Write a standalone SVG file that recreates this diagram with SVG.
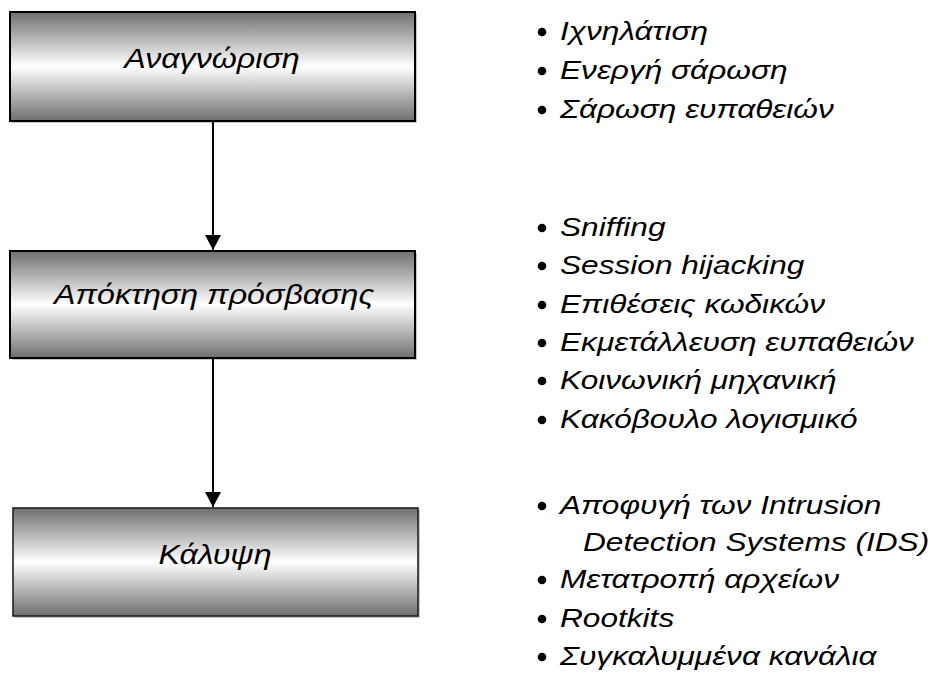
<svg xmlns="http://www.w3.org/2000/svg" width="944" height="673" viewBox="0 0 944 673">
  <style>
    .box { stroke: #000; stroke-width: 2; }
    .shadow { fill: #c8c8c8; }
    .label { font-family: "Liberation Sans", Arial, sans-serif; font-style: italic; font-size: 28px; fill: #000; text-anchor: middle; }
    .item { font-family: "Liberation Sans", Arial, sans-serif; font-style: italic; font-size: 25px; fill: #000; }
    .edge { stroke: #000; stroke-width: 2; fill: none; }
  </style>
  <defs>
    <linearGradient id="metal" x1="0" y1="0" x2="0" y2="1">
      <stop offset="0" stop-color="#6f6f6f"/>
      <stop offset="0.5" stop-color="#ffffff"/>
      <stop offset="1" stop-color="#6f6f6f"/>
    </linearGradient>
    <marker id="arrow" markerWidth="16" markerHeight="16" refX="15" refY="8" orient="auto" markerUnits="userSpaceOnUse">
      <path d="M0,0 L15,8 L0,16 Z" fill="#000"/>
    </marker>
  </defs>
  <rect width="944" height="673" fill="#fff"/>

  <!-- process stages -->
  <g id="stage-recon">
    <rect class="shadow" x="12" y="14" width="405" height="109"/>
    <rect class="box" x="10" y="12" width="405" height="109" fill="url(#metal)"/>
    <text class="label" transform="translate(212 68) scale(1.15 1)">Αναγνώριση</text>
  </g>
  <g id="stage-access">
    <rect class="shadow" x="12" y="253" width="405" height="107"/>
    <rect class="box" x="10" y="251" width="405" height="107" fill="url(#metal)"/>
    <text class="label" transform="translate(214 304) scale(1.15 1)">Απόκτηση πρόσβασης</text>
  </g>
  <g id="stage-cover">
    <rect class="shadow" x="15" y="510" width="405" height="108"/>
    <rect class="box" x="13" y="508" width="405" height="108" fill="url(#metal)" style="stroke:#222;stroke-width:1.6"/>
    <text class="label" transform="translate(215 564) scale(1.15 1)">Κάλυψη</text>
  </g>

  <!-- flow between stages -->
  <g id="connectors">
    <line class="edge" x1="213" y1="121" x2="213" y2="250" marker-end="url(#arrow)"/>
    <line class="edge" x1="213" y1="358" x2="213" y2="507" marker-end="url(#arrow)"/>
  </g>

  <!-- techniques per stage -->
  <g id="list-recon">
    <circle cx="542" cy="32" r="4.3"/>
    <circle cx="542" cy="71" r="4.3"/>
    <circle cx="542" cy="110" r="4.3"/>
    <g transform="translate(560 0) scale(1.265 1)">
      <text class="item" x="0" y="40">Ιχνηλάτιση</text>
      <text class="item" x="0" y="79">Ενεργή σάρωση</text>
      <text class="item" x="0" y="118">Σάρωση ευπαθειών</text>
    </g>
  </g>
  <g id="list-access">
    <circle cx="542" cy="228" r="4.3"/>
    <circle cx="542" cy="266" r="4.3"/>
    <circle cx="542" cy="305" r="4.3"/>
    <circle cx="542" cy="343" r="4.3"/>
    <circle cx="542" cy="381" r="4.3"/>
    <circle cx="542" cy="420" r="4.3"/>
    <g transform="translate(560 0) scale(1.265 1)">
      <text class="item" x="0" y="236">Sniffing</text>
      <text class="item" x="0" y="274">Session hijacking</text>
      <text class="item" x="0" y="313">Επιθέσεις κωδικών</text>
      <text class="item" x="0" y="351">Εκμετάλλευση ευπαθειών</text>
      <text class="item" x="0" y="389">Κοινωνική μηχανική</text>
      <text class="item" x="0" y="428">Κακόβουλο λογισμικό</text>
    </g>
  </g>
  <g id="list-cover">
    <circle cx="542" cy="506" r="4.3"/>
    <circle cx="542" cy="580" r="4.3"/>
    <circle cx="542" cy="619" r="4.3"/>
    <circle cx="542" cy="657" r="4.3"/>
    <g transform="translate(560 0) scale(1.265 1)">
      <text class="item" x="0" y="514">Αποφυγή των Intrusion</text>
      <text class="item" x="18.2" y="551">Detection Systems (IDS)</text>
      <text class="item" x="0" y="588">Μετατροπή αρχείων</text>
      <text class="item" x="0" y="627">Rootkits</text>
      <text class="item" x="0" y="665">Συγκαλυμμένα κανάλια</text>
    </g>
  </g>
</svg>
